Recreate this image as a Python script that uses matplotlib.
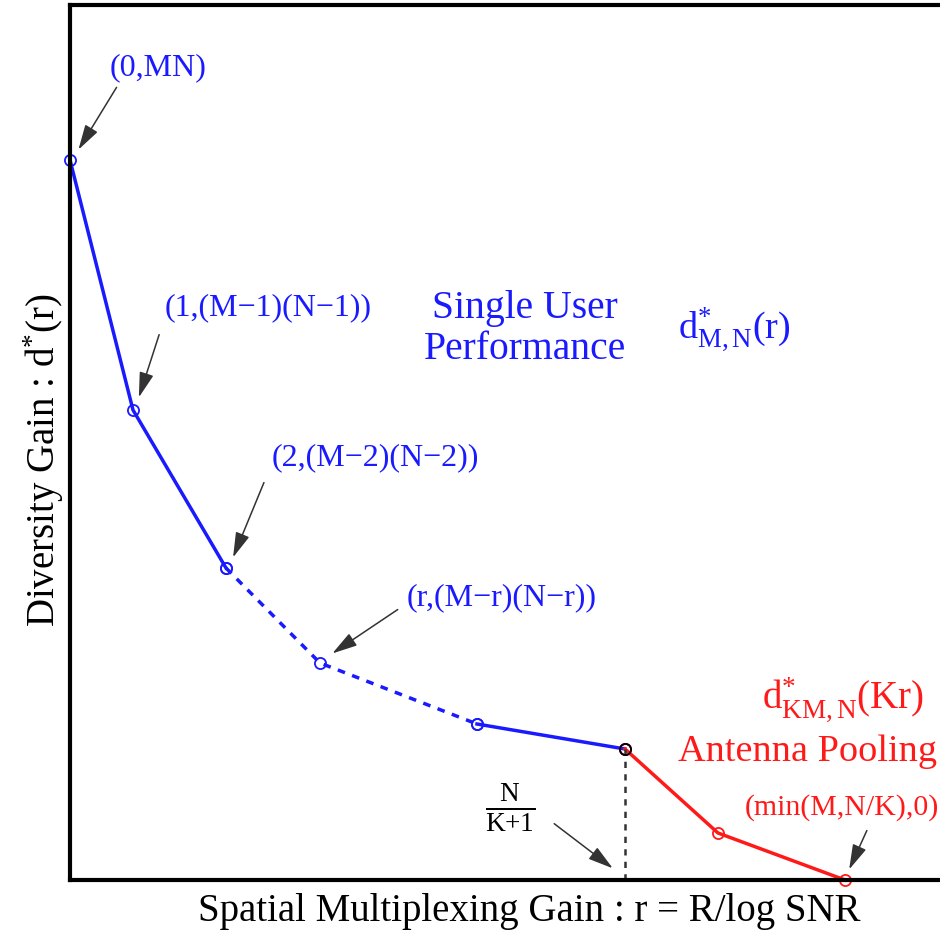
import matplotlib
matplotlib.use('Agg')
import matplotlib.pyplot as plt

plt.rcParams['font.family'] = 'Liberation Serif'
plt.rcParams['mathtext.fontset'] = 'custom'
plt.rcParams['mathtext.rm'] = 'Liberation Serif'
plt.rcParams['mathtext.it'] = 'Liberation Serif:italic'

# Data (r, d), arbitrary units
r_solid1 = [0.0, 0.63, 1.56]
d_solid1 = [7.20, 4.70, 3.12]
r_dash = [1.56, 2.50, 4.07]
d_dash = [3.12, 2.17, 1.56]
r_solid2 = [4.07, 5.55]
d_solid2 = [1.56, 1.31]
r_pool = [5.55, 6.48, 7.75]
d_pool = [1.31, 0.47, 0.0]
r_corner = 5.55
d_corner = 1.31

blue = '#1a1aff'
red = '#ff1a1a'

fig = plt.figure(figsize=(9.4, 9.3), dpi=100)
ax = fig.add_axes([70 / 940, 50 / 930, 890 / 940, 875 / 930])
ax.set_xlim(0, 8.9)
ax.set_ylim(0, 8.75)
ax.set_xticks([])
ax.set_yticks([])
for s in ax.spines.values():
    s.set_linewidth(3)
    s.set_zorder(5)

mk = dict(marker='o', markersize=8, markerfacecolor='none', markeredgewidth=1.3)
ax.plot(r_solid1, d_solid1, '-', color=blue, lw=2.5, **mk, clip_on=False)
ax.plot(r_dash, d_dash, '--', color=blue, lw=2.5, dashes=(2.2, 2.2), **mk)
ax.plot(r_solid2, d_solid2, '-', color=blue, lw=2.5, **mk)
ax.plot(r_pool, d_pool, '-', color=red, lw=2.5, **mk, clip_on=False)
ax.plot([r_corner, r_corner], [0, d_corner], '--', color='#333333', lw=1.8, dashes=(2.5, 2.5))
ax.plot([r_corner], [d_corner], 'o', color='black', markersize=8,
        markerfacecolor='none', markeredgewidth=1.3)

arr = dict(arrowstyle='-|>,head_length=0.7,head_width=0.2', color='#333333', lw=1.1,
           mutation_scale=22)

def note(text, xy, xytext, col, size=23, tip=None, ha='left'):
    ax.text(xytext[0], xytext[1], text, color=col, fontsize=size, ha=ha, va='center')
    if tip is not None:
        ax.annotate('', xy=xy, xytext=tip, arrowprops=arr)

note('(0,MN)', (0.07, 7.28), (0.40, 8.12), blue, tip=(0.48, 7.95))
note('(1,(M\u22121)(N\u22121))', (0.68, 4.80), (0.95, 5.72), blue, tip=(0.90, 5.48))
note('(2,(M\u22122)(N\u22122))', (1.62, 3.20), (2.02, 4.22), blue, tip=(1.95, 4.00))
note('(r,(M\u2212r)(N\u2212r))', (2.60, 2.25), (3.37, 2.82), blue, tip=(3.30, 2.72))
note('(min(M,N/K),0)', (7.78, 0.08), (6.75, 0.72), red, size=21.5, tip=(7.98, 0.52))

ax.text(4.55, 5.51, 'Single User\nPerformance', color=blue, fontsize=28.5,
        ha='center', va='center', linespacing=1.12)
ax.text(6.08, 5.50, r'$\mathrm{d}^{*}_{\mathrm{M,N}}(\mathrm{r})$', color=blue,
        fontsize=27.5, ha='left', va='center')
ax.text(6.92, 1.80, r'$\mathrm{d}^{*}_{\mathrm{KM,N}}(\mathrm{Kr})$', color=red,
        fontsize=28, ha='left', va='center')
ax.text(6.08, 1.28, 'Antenna Pooling', color=red, fontsize=27.5, ha='left', va='center')

ax.text(4.40, 0.72, r'$\frac{\mathrm{N}}{\mathrm{K{+}1}}$', color='black', fontsize=28,
        ha='center', va='center')
ax.annotate('', xy=(5.45, 0.10), xytext=(4.82, 0.58), arrowprops=arr)

ax.set_xlabel('Spatial Multiplexing Gain : r = R/log SNR', fontsize=28)
ax.xaxis.set_label_coords(0.516, -0.015, transform=ax.transAxes)
ax.xaxis.label.set_va('top')
ax.set_ylabel(r'Diversity Gain : d$^{*}$(r)', fontsize=28)
ax.yaxis.set_label_coords(-0.004, 0.48, transform=ax.transAxes)
ax.yaxis.label.set_va('bottom')

fig.savefig('out.png', dpi=100)
